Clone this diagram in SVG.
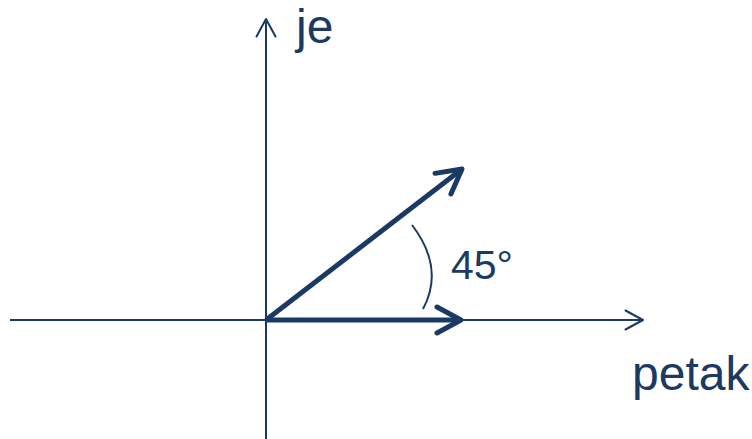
<svg xmlns="http://www.w3.org/2000/svg" width="752" height="439" viewBox="0 0 752 439">
<style>
.ax{stroke:#1b3a63;stroke-width:2;fill:none}
.vec{stroke:#1b3a63;stroke-width:5;fill:none}
.arc{stroke:#1b3a63;stroke-width:2;fill:none}
.lbl{font-family:"Liberation Sans",Arial,sans-serif;fill:#1b3a63}
</style>
<defs>
<marker id="axisHead" markerUnits="userSpaceOnUse" markerWidth="30" markerHeight="30" viewBox="-24 -15 30 30" refX="0" refY="0" orient="auto" overflow="visible">
<path d="M-17.5,-9.5 L0,0 L-17.5,9.5" fill="none" stroke="#1b3a63" stroke-width="2" stroke-linecap="round" stroke-linejoin="round"/>
</marker>
<marker id="vecHead" markerUnits="userSpaceOnUse" markerWidth="40" markerHeight="40" viewBox="-30 -20 40 40" refX="0" refY="0" orient="auto" overflow="visible">
<path d="M-24,-13 L0,0 L-24,13" fill="none" stroke="#1b3a63" stroke-width="5" stroke-linecap="round" stroke-linejoin="round"/>
</marker>
</defs>
<g id="connectors">
<line id="x-axis" class="ax" x1="10" y1="320" x2="643" y2="320" marker-end="url(#axisHead)"/>
<line id="y-axis" class="ax" x1="266" y1="439" x2="266" y2="19" marker-end="url(#axisHead)"/>
<line id="vec-horizontal" class="vec" x1="266" y1="320" x2="461" y2="320" marker-end="url(#vecHead)"/>
<line id="vec-diagonal" class="vec" x1="266" y1="320" x2="462" y2="169" marker-end="url(#vecHead)"/>
<path id="angle-arc" class="arc" d="M412,225 Q445,268 423,309"/>
</g>
<g id="label-je"><text class="lbl" x="296" y="43" font-size="48">je</text></g>
<g id="label-petak"><text class="lbl" x="632" y="390" font-size="48">petak</text></g>
<g id="label-angle"><text class="lbl" x="451" y="279" font-size="41">45°</text></g>
</svg>
